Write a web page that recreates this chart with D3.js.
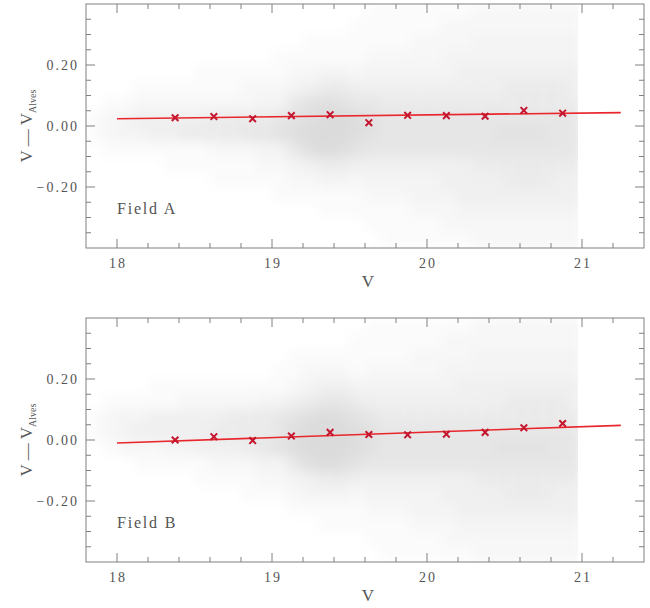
<!DOCTYPE html>
<html>
<head>
<meta charset="utf-8">
<script src="https://cdn.jsdelivr.net/npm/d3@7"></script>
<style>
  body { margin: 0; background: #fff; }
  text { font-family: "Liberation Serif", "DejaVu Serif", serif; fill: #555; }
</style>
</head>
<body>
<svg id="chart" width="650" height="608"></svg>
<script>
// ---- data -------------------------------------------------------------
// Binned mean offsets (V - V_Alves) per 0.25 mag bin
const binV    = [18.375, 18.625, 18.875, 19.125, 19.375, 19.625, 19.875, 20.125, 20.375, 20.625, 20.875];
const offsetA = [0.027, 0.031, 0.024, 0.034, 0.037, 0.011, 0.035, 0.034, 0.032, 0.051, 0.042];
const offsetB = [0.000, 0.011, -0.002, 0.013, 0.025, 0.018, 0.017, 0.019, 0.025, 0.040, 0.054];

// Linear fits (end points)
const fitV = [18.0, 21.25];
const fitA = [0.024, 0.044];
const fitB = [-0.010, 0.048];

// Star density of the individual-star comparison, per cell
// (columns: V bins, digits: offset bins from +0.40 down to -0.40)
const densityEdgesV = [17.8, 17.9, 18.0, 18.1, 18.2, 18.3, 18.4, 18.5, 18.6, 18.7, 18.8, 18.9,
                       19.0, 19.1, 19.2, 19.3, 19.4, 19.5, 19.6, 19.7, 19.8, 19.9,
                       20.0, 20.1, 20.2, 20.3, 20.4, 20.5, 20.6, 20.7, 20.8, 20.9, 21.0];
const densityEdgesY = [0.40, 0.35, 0.30, 0.25, 0.20, 0.15, 0.10, 0.05, 0.00,
                       -0.05, -0.10, -0.15, -0.20, -0.25, -0.30, -0.35, -0.40];
const densityA = [
  "0000000110000000", "0000001221000000", "0000001331000000", "0000012431000000",
  "0000012441000000", "0000012441100000", "0000012451100000", "0000112451100000",
  "0000112552110000", "0000112552110000", "0000122562110000", "0000123563210000",
  "0001123673211000", "0001236786321000", "0011247898421000", "0011358999531100",
  "0011357998531100", "0111246887421100", "1112346776432110", "1112345666432111",
  "1112345666432111", "1122345666433211", "1122345666433211", "1223345666443221",
  "1223445666444321", "2233445666544322", "2233445676544322", "2233455676554322",
  "2233455676554322", "2233455676554322", "2233455666544322", "2233445666544322"
];
const densityB = [
  "0000001100000000", "0000012210000000", "0000013320000000", "0000013421000000",
  "0000114421000000", "0000114431000000", "0000124431000000", "0000124441100000",
  "0000124542100000", "0000125542100000", "0000125552110000", "0000135563210000",
  "0001136673210000", "0011247886321000", "0012358998431000", "0012469999531100",
  "0012468998531100", "0111357887421100", "1112346776432110", "1112345666432111",
  "1112345666432111", "1122345666433211", "1122345666433211", "1223345666443221",
  "1223445666444321", "2233445666544322", "2233445676544322", "2233455676554322",
  "2233455676554322", "2233455676554322", "2233455666544322", "2233445666544322"
];

// Axes
const xDomain = [17.8, 21.4];
const yDomain = [-0.4, 0.4];
const xTickLabels = [18, 19, 20, 21];
const xMinorTicks = [18.2, 18.4, 18.6, 18.8, 19.2, 19.4, 19.6, 19.8, 20.2, 20.4, 20.6, 20.8, 21.2];
const yTickLabels = [-0.2, 0.0, 0.2];
const yMinorTicks = [-0.35, -0.3, -0.25, -0.15, -0.1, -0.05, 0.05, 0.1, 0.15, 0.25, 0.3, 0.35];

const panels = [
  { name: "Field A", offsets: offsetA, fit: fitA, density: densityA, top: 4,   bottom: 248 },
  { name: "Field B", offsets: offsetB, fit: fitB, density: densityB, top: 318, bottom: 562 }
];

// ---- drawing ----------------------------------------------------------
const svg = d3.select("#chart");
const left = 86, right = 644;
const frameColor = "#808080";
const lineRed = "#e8262c";
const crossRed = "#c4162e";

const defs = svg.append("defs");
defs.append("filter").attr("id", "soft")
  .attr("x", "-10%").attr("y", "-10%").attr("width", "120%").attr("height", "120%")
  .append("feGaussianBlur").attr("stdDeviation", 6);

panels.forEach((p, pi) => {
  const x = d3.scaleLinear().domain(xDomain).range([left, right]);
  const y = d3.scaleLinear().domain(yDomain).range([p.bottom, p.top]);
  const g = svg.append("g");

  // density of individual stars
  const clipId = "clip" + pi;
  defs.append("clipPath").attr("id", clipId).append("rect")
    .attr("x", x(densityEdgesV[0]))
    .attr("y", p.top)
    .attr("width", x(densityEdgesV[densityEdgesV.length - 1]) - x(densityEdgesV[0]) - 4)
    .attr("height", p.bottom - p.top);
  const cells = [];
  p.density.forEach((col, i) => {
    col.split("").forEach((d, j) => {
      cells.push({ v0: densityEdgesV[i], v1: densityEdgesV[i + 1],
                   y0: densityEdgesY[j], y1: densityEdgesY[j + 1], n: +d });
    });
  });
  g.append("g").attr("clip-path", `url(#${clipId})`)
    .append("g").attr("filter", "url(#soft)")
    .selectAll("rect").data(cells.filter(c => c.n > 0)).join("rect")
      .attr("x", c => x(c.v0))
      .attr("y", c => y(c.y0))
      .attr("width", c => x(c.v1) - x(c.v0) + 0.5)
      .attr("height", c => y(c.y1) - y(c.y0) + 0.5)
      .attr("fill", "#000")
      .attr("fill-opacity", c => c.n * 0.015);

  // frame
  g.append("rect")
    .attr("x", left).attr("y", p.top)
    .attr("width", right - left).attr("height", p.bottom - p.top)
    .attr("fill", "none").attr("stroke", frameColor).attr("stroke-width", 1);

  // inward ticks on all four sides
  const tickG = g.append("g").attr("stroke", frameColor).attr("stroke-width", 1);
  const xt = xTickLabels.map(v => ({ v, len: 9 })).concat(xMinorTicks.map(v => ({ v, len: 5 })));
  xt.forEach(t => {
    tickG.append("line").attr("x1", x(t.v)).attr("x2", x(t.v))
      .attr("y1", p.bottom).attr("y2", p.bottom - t.len);
    tickG.append("line").attr("x1", x(t.v)).attr("x2", x(t.v))
      .attr("y1", p.top).attr("y2", p.top + t.len);
  });
  const yt = yTickLabels.map(v => ({ v, len: 9 })).concat(yMinorTicks.map(v => ({ v, len: 5 })));
  yt.forEach(t => {
    tickG.append("line").attr("y1", y(t.v)).attr("y2", y(t.v))
      .attr("x1", left).attr("x2", left + t.len);
    tickG.append("line").attr("y1", y(t.v)).attr("y2", y(t.v))
      .attr("x1", right).attr("x2", right - t.len);
  });

  // tick labels
  g.selectAll("text.xl").data(xTickLabels).join("text").attr("class", "xl")
    .attr("x", d => x(d) + 1).attr("y", p.bottom + 20)
    .attr("text-anchor", "middle").attr("font-size", 14).attr("letter-spacing", 2)
    .text(d => d);
  g.selectAll("text.yl").data(yTickLabels).join("text").attr("class", "yl")
    .attr("x", left - 7).attr("y", d => y(d) + 5)
    .attr("text-anchor", "end").attr("font-size", 14).attr("letter-spacing", 2)
    .text(d => d3.format(".2f")(d));

  // axis titles
  g.append("text")
    .attr("x", (left + right) / 2 + 3).attr("y", p.bottom + 39)
    .attr("text-anchor", "middle").attr("font-size", 17)
    .text("V");
  const yt2 = g.append("text")
    .attr("transform", `translate(32,${(p.top + p.bottom) / 2}) rotate(-90)`)
    .attr("text-anchor", "middle").attr("font-size", 17);
  yt2.append("tspan").text("V  \u2014  V");
  yt2.append("tspan").attr("font-size", 10).attr("dy", 4).text("Alves");

  // field label
  g.append("text")
    .attr("x", x(18.0)).attr("y", y(-0.29))
    .attr("font-size", 16).attr("letter-spacing", 1.8)
    .text(p.name);

  // linear fit
  g.append("path")
    .datum(fitV.map((v, i) => [v, p.fit[i]]))
    .attr("d", d3.line().x(d => x(d[0])).y(d => y(d[1])))
    .attr("fill", "none").attr("stroke", lineRed).attr("stroke-width", 1.6);

  // binned offsets
  g.selectAll("path.cross").data(binV.map((v, i) => [v, p.offsets[i]])).join("path")
    .attr("class", "cross")
    .attr("transform", d => `translate(${x(d[0])},${y(d[1])})`)
    .attr("d", "M-3.3,-3.3L3.3,3.3M-3.3,3.3L3.3,-3.3")
    .attr("fill", "none").attr("stroke", crossRed).attr("stroke-width", 2);
});
</script>
</body>
</html>
